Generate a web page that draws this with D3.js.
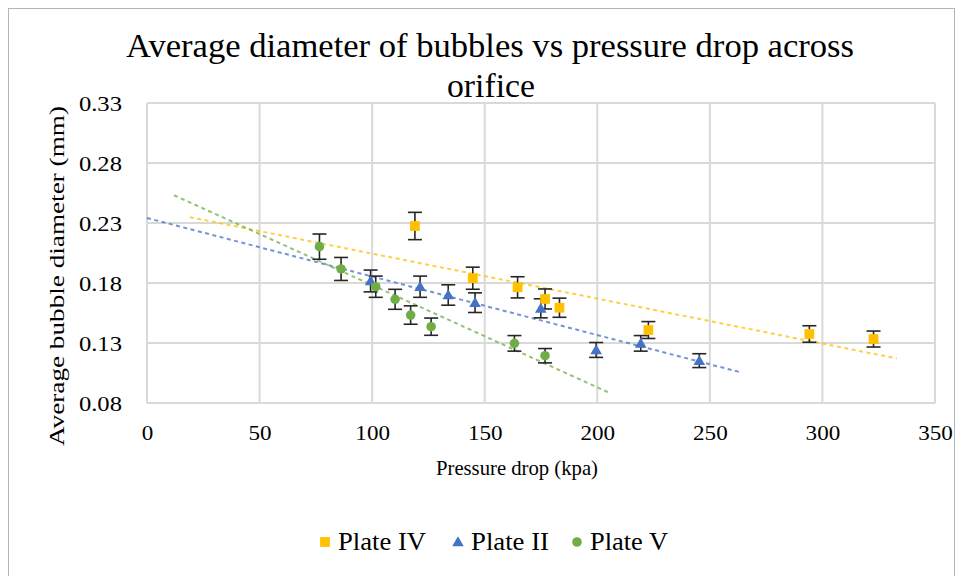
<!DOCTYPE html>
<html>
<head>
<meta charset="utf-8">
<script src="https://cdn.jsdelivr.net/npm/d3@7"></script>
<style>
  html, body { margin: 0; padding: 0; background: #fff; }
</style>
</head>
<body>
<svg id="chart" width="961" height="576" font-family="'Liberation Serif', 'Times New Roman', serif"></svg>
<script>
// Pressure drop (kPa) and mean bubble diameter (mm) for each plate
const plateIVPressure = [119, 144.7, 164.6, 176.8, 183.2, 222.7, 294.2, 322.7];
const plateIVDiameter = [0.2275, 0.184, 0.1764, 0.1667, 0.1594, 0.1408, 0.1375, 0.1333];

const plateIIPressure = [99.3, 121.3, 133.8, 145.7, 174.9, 199.5, 219.3, 245.3];
const plateIIDiameter = [0.1817, 0.1769, 0.17, 0.1636, 0.1589, 0.1242, 0.1297, 0.1153];

const plateVPressure = [76.6, 86.2, 101.6, 110.2, 117.1, 126.2, 163.2, 176.8];
const plateVDiameter = [0.2103, 0.1917, 0.1769, 0.1664, 0.1533, 0.1436, 0.1297, 0.1194];

const seriesNames = ["Plate IV", "Plate II", "Plate V"];
// x-range covered by each linear trendline (kPa)
const trendFrom = [19, 0, 12];
const trendTo = [333, 264, 206];
// error bars: percentage of each value
const errorFraction = 0.05;

const xTicks = [0, 50, 100, 150, 200, 250, 300, 350];
const yTicks = [0.08, 0.13, 0.18, 0.23, 0.28, 0.33];

const colors = ["#FFC000", "#4472C4", "#70AD47"];
const symbols = [d3.symbolSquare, d3.symbolTriangle, d3.symbolCircle];
const symbolSizes = [95, 58, 72];

const FONT = "'Liberation Serif', 'Times New Roman', serif";

const series = [
  { name: seriesNames[0], xs: plateIVPressure, ys: plateIVDiameter },
  { name: seriesNames[1], xs: plateIIPressure, ys: plateIIDiameter },
  { name: seriesNames[2], xs: plateVPressure, ys: plateVDiameter }
].map((s, i) => ({
  ...s,
  color: colors[i],
  symbol: symbols[i],
  size: symbolSizes[i],
  points: s.xs.map((x, j) => ({ x, y: s.ys[j] })),
  from: trendFrom[i],
  to: trendTo[i]
}));

// widen a text run horizontally by a factor
function widen(sel, factor) {
  sel.each(function () {
    const w = this.getComputedTextLength();
    d3.select(this).attr("textLength", w * factor).attr("lengthAdjust", "spacingAndGlyphs");
  });
}

const svg = d3.select("#chart");

// outer chart frame
svg.append("rect")
  .attr("x", 8.5).attr("y", 8.5)
  .attr("width", 946).attr("height", 575)
  .attr("fill", "#fff").attr("stroke", "#b4b4b4").attr("stroke-width", 1);

const plot = { left: 147, right: 935, top: 103, bottom: 403 };

const x = d3.scaleLinear().domain([0, 350]).range([plot.left, plot.right]);
const y = d3.scaleLinear().domain([0.08, 0.33]).range([plot.bottom, plot.top]);

// gridlines
const grid = svg.append("g").attr("stroke", "#d9d9d9").attr("stroke-width", 2);
grid.selectAll("line.v").data(xTicks).join("line")
  .attr("x1", d => x(d)).attr("x2", d => x(d))
  .attr("y1", plot.top).attr("y2", plot.bottom);
grid.selectAll("line.h").data(yTicks).join("line")
  .attr("x1", plot.left).attr("x2", plot.right)
  .attr("y1", d => y(d)).attr("y2", d => y(d));

// axes (labels only)
const xAxis = svg.append("g")
  .attr("transform", `translate(0,${plot.bottom + 18})`)
  .call(d3.axisBottom(x).tickValues(xTicks).tickSize(0).tickFormat(d3.format("d")))
  .attr("font-family", FONT).attr("font-size", 22);
xAxis.select(".domain").remove();
xAxis.selectAll("text").attr("dy", "0.71em").attr("fill", "#000");
widen(xAxis.selectAll("text"), 1.05);

const yAxis = svg.append("g")
  .attr("transform", `translate(${plot.left - 25},0)`)
  .call(d3.axisLeft(y).tickValues(yTicks).tickSize(0).tickFormat(d3.format(".2f")))
  .attr("font-family", FONT).attr("font-size", 22);
yAxis.select(".domain").remove();
yAxis.selectAll("text").attr("x", 0).attr("fill", "#000");
widen(yAxis.selectAll("text"), 1.12);

// least-squares line through each series
function linearFit(pts) {
  const mx = d3.mean(pts, p => p.x), my = d3.mean(pts, p => p.y);
  const sxy = d3.sum(pts, p => (p.x - mx) * (p.y - my));
  const sxx = d3.sum(pts, p => (p.x - mx) ** 2);
  const slope = sxy / sxx;
  return { slope, intercept: my - slope * mx };
}

const trends = svg.append("g");
series.forEach(s => {
  const fit = linearFit(s.points);
  const ends = [s.from, s.to].map(v => ({ x: v, y: fit.intercept + fit.slope * v }));
  trends.append("path")
    .datum(ends)
    .attr("d", d3.line().x(d => x(d.x)).y(d => y(d.y)))
    .attr("fill", "none")
    .attr("stroke", s.color)
    .attr("stroke-width", 2)
    .attr("stroke-dasharray", "4,3.5")
    .attr("opacity", 0.75);
});

// error bars
const errs = svg.append("g").attr("stroke", "#262626").attr("stroke-width", 1.6);
series.forEach(s => {
  s.points.forEach(p => {
    const e = p.y * errorFraction;
    const cx = x(p.x), y0 = y(p.y - e), y1 = y(p.y + e);
    errs.append("line").attr("x1", cx).attr("x2", cx).attr("y1", y0).attr("y2", y1);
    errs.append("line").attr("x1", cx - 7).attr("x2", cx + 7).attr("y1", y0).attr("y2", y0);
    errs.append("line").attr("x1", cx - 7).attr("x2", cx + 7).attr("y1", y1).attr("y2", y1);
  });
});

// markers
series.forEach(s => {
  svg.append("g").selectAll("path").data(s.points).join("path")
    .attr("d", d3.symbol().type(s.symbol).size(s.size))
    .attr("transform", d => `translate(${x(d.x)},${y(d.y) + (s.symbol === d3.symbolTriangle ? 1 : 0)})`)
    .attr("fill", s.color);
});

// title
const title = svg.append("text")
  .attr("text-anchor", "middle").attr("font-size", 33).attr("font-family", FONT).attr("fill", "#000");
title.append("tspan").attr("x", 490).attr("y", 57)
  .attr("textLength", 728).attr("lengthAdjust", "spacingAndGlyphs")
  .text("Average diameter of bubbles vs pressure drop across");
title.append("tspan").attr("x", 491).attr("y", 97)
  .attr("textLength", 88).attr("lengthAdjust", "spacingAndGlyphs")
  .text("orifice");

// axis titles
svg.append("text")
  .attr("x", 517).attr("y", 475)
  .attr("text-anchor", "middle").attr("font-size", 22).attr("font-family", FONT).attr("fill", "#000")
  .attr("textLength", 162).attr("lengthAdjust", "spacingAndGlyphs")
  .text("Pressure drop (kpa)");

svg.append("text")
  .attr("transform", "translate(64,276) rotate(-90)")
  .attr("text-anchor", "middle").attr("font-size", 22).attr("font-family", FONT).attr("fill", "#000")
  .attr("textLength", 340).attr("lengthAdjust", "spacingAndGlyphs")
  .text("Average bubble diameter (mm)");

// legend
const legendX = [325, 458, 577];
const legendTextWidth = [88, 78, 78];
const legend = svg.append("g");
series.forEach((s, i) => {
  legend.append("path")
    .attr("d", d3.symbol().type(s.symbol).size(s.size))
    .attr("transform", `translate(${legendX[i]},${542 + (s.symbol === d3.symbolTriangle ? 1 : 0)})`)
    .attr("fill", s.color);
  legend.append("text")
    .attr("x", legendX[i] + 13).attr("y", 550)
    .attr("font-size", 25).attr("font-family", FONT).attr("fill", "#000")
    .attr("textLength", legendTextWidth[i]).attr("lengthAdjust", "spacingAndGlyphs")
    .text(s.name);
});
</script>
</body>
</html>
